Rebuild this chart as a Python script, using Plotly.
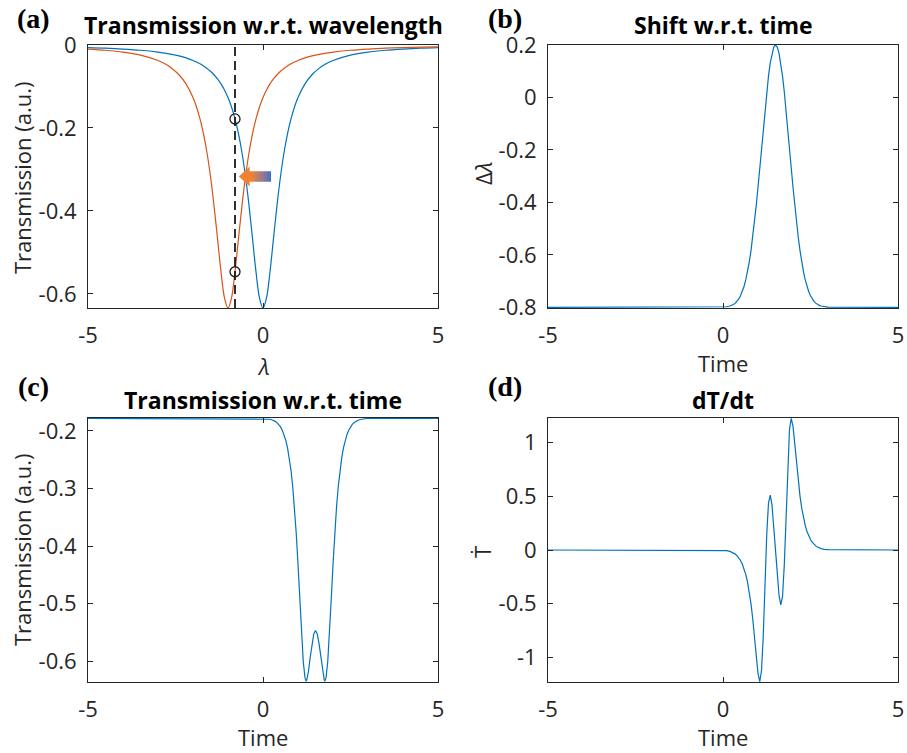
import plotly.graph_objects as go

# ---------------------------------------------------------------- data
# (a) resonance dips versus wavelength
lam = [-5.0, -4.5, -4.0, -3.5, -3.0, -2.8, -2.6, -2.4, -2.2, -2.0, -1.9, -1.8, -1.7,
       -1.6, -1.5, -1.4, -1.3, -1.2, -1.1, -1.0, -0.9, -0.8, -0.7, -0.6, -0.5, -0.4,
       -0.3, -0.2, -0.1, 0.0, 0.1, 0.2, 0.3, 0.4, 0.5, 0.6, 0.7, 0.8, 0.9, 1.0, 1.2,
       1.4, 1.6, 1.8, 2.0, 2.5, 3.0, 3.5, 4.0, 4.5, 5.0]
trans_unshifted = [-0.0063, -0.0077, -0.0098, -0.0127, -0.0171, -0.0196, -0.0226, -0.0264,
                   -0.0311, -0.0373, -0.0411, -0.0454, -0.0505, -0.0564, -0.0634, -0.0717,
                   -0.0817, -0.0938, -0.1086, -0.1268, -0.1495, -0.1781, -0.2142, -0.2598,
                   -0.3170, -0.3866, -0.4662, -0.5466, -0.6096, -0.6340, -0.6096, -0.5466,
                   -0.4662, -0.3866, -0.3170, -0.2598, -0.2142, -0.1781, -0.1495, -0.1268,
                   -0.0938, -0.0717, -0.0564, -0.0454, -0.0373, -0.0244, -0.0171, -0.0127,
                   -0.0098, -0.0077, -0.0063]
trans_shifted = [-0.0098, -0.0127, -0.0171, -0.0244, -0.0373, -0.0454, -0.0564, -0.0717,
                 -0.0938, -0.1268, -0.1495, -0.1781, -0.2142, -0.2598, -0.3170, -0.3866,
                 -0.4662, -0.5466, -0.6096, -0.6340, -0.6096, -0.5466, -0.4662, -0.3866,
                 -0.3170, -0.2598, -0.2142, -0.1781, -0.1495, -0.1268, -0.1086, -0.0938,
                 -0.0817, -0.0717, -0.0634, -0.0564, -0.0505, -0.0454, -0.0411, -0.0373,
                 -0.0311, -0.0264, -0.0226, -0.0196, -0.0171, -0.0127, -0.0098, -0.0077,
                 -0.0063, -0.0052, -0.0044]
probe_lambda = -0.8
probe_trans = [-0.1781, -0.5466]

# (b)-(d) time traces
t = [-5.0, 0.0, 0.1, 0.2, 0.25, 0.3, 0.35, 0.4, 0.45, 0.5, 0.55, 0.6, 0.65, 0.7, 0.75,
     0.8, 0.85, 0.9, 0.95, 1.0, 1.05, 1.1, 1.15, 1.2, 1.2328, 1.25, 1.3, 1.35, 1.4, 1.45,
     1.5, 1.55, 1.6, 1.65, 1.7, 1.75, 1.7672, 1.8, 1.85, 1.9, 1.95, 2.0, 2.05, 2.1, 2.15,
     2.2, 2.25, 2.3, 2.35, 2.4, 2.45, 2.5, 2.55, 2.6, 2.65, 2.7, 2.75, 2.8, 2.9, 3.0, 5.0]
shift = [-0.8, -0.7991, -0.7978, -0.7949, -0.7924, -0.7889, -0.7840, -0.7772, -0.7681,
         -0.7561, -0.7404, -0.7204, -0.6954, -0.6647, -0.6276, -0.5837, -0.5330, -0.4754,
         -0.4114, -0.3422, -0.2689, -0.1935, -0.1181, -0.0452, 0.0, 0.0226, 0.0825, 0.1321,
         0.1692, 0.1922, 0.2000, 0.1922, 0.1692, 0.1321, 0.0825, 0.0226, 0.0, -0.0452,
         -0.1181, -0.1935, -0.2689, -0.3422, -0.4114, -0.4754, -0.5330, -0.5837, -0.6276,
         -0.6647, -0.6954, -0.7204, -0.7404, -0.7561, -0.7681, -0.7772, -0.7840, -0.7889,
         -0.7924, -0.7949, -0.7978, -0.7991, -0.8]
trans_time = [-0.1781, -0.1784, -0.1788, -0.1797, -0.1805, -0.1817, -0.1833, -0.1856,
              -0.1887, -0.1929, -0.1986, -0.2061, -0.2161, -0.2291, -0.2462, -0.2683,
              -0.2968, -0.3330, -0.3780, -0.4318, -0.4918, -0.5514, -0.6005, -0.6289,
              -0.6340, -0.6327, -0.6172, -0.5926, -0.5688, -0.5524, -0.5466, -0.5524,
              -0.5688, -0.5926, -0.6172, -0.6327, -0.6340, -0.6289, -0.6005, -0.5514,
              -0.4918, -0.4318, -0.3780, -0.3330, -0.2968, -0.2683, -0.2462, -0.2291,
              -0.2161, -0.2061, -0.1986, -0.1929, -0.1887, -0.1856, -0.1833, -0.1817,
              -0.1805, -0.1797, -0.1788, -0.1784, -0.1781]
dtrans_dt = [0.0, -0.0027, -0.0062, -0.0134, -0.0193, -0.0274, -0.0383, -0.0529, -0.0722,
             -0.0975, -0.1303, -0.1728, -0.2276, -0.2979, -0.3879, -0.5017, -0.6427,
             -0.8098, -0.9910, -1.1517, -1.2257, -1.1256, -0.8014, -0.3190, 0.0, 0.1466,
             0.4375, 0.5116, 0.4186, 0.2295, 0.0, -0.2295, -0.4186, -0.5116, -0.4375,
             -0.1466, 0.0, 0.3190, 0.8014, 1.1256, 1.2257, 1.1517, 0.9910, 0.8098, 0.6427,
             0.5017, 0.3879, 0.2979, 0.2276, 0.1728, 0.1303, 0.0975, 0.0722, 0.0529,
             0.0383, 0.0274, 0.0193, 0.0134, 0.0062, 0.0027, 0.0]

x_ticks = [-5, 0, 5]
ticks_a = [-0.6, -0.4, -0.2, 0]
ticks_b = [-0.8, -0.6, -0.4, -0.2, 0, 0.2]
ticks_c = [-0.6, -0.5, -0.4, -0.3, -0.2]
ticks_d = [-1, -0.5, 0, 0.5, 1]

# ---------------------------------------------------------------- style
W, H = 907, 753
SANS = "Open Sans"
SERIF = "Liberation Serif"
BLUE = "#0072BD"
ORANGE = "#D95319"
AXIS = "#262626"
TICK_SIZE = 22
LABEL_SIZE = 22
TITLE_SIZE = 23


def px(xp):
    return xp / W


def py(yp):
    return 1 - yp / H


fig = go.Figure()

# (a)
fig.add_trace(go.Scatter(x=lam, y=trans_unshifted, mode="lines", line=dict(color=BLUE, width=1.2, shape="spline"),
                         xaxis="x", yaxis="y"))
fig.add_trace(go.Scatter(x=lam, y=trans_shifted, mode="lines", line=dict(color=ORANGE, width=1.2, shape="spline"),
                         xaxis="x", yaxis="y"))
ya_range = [-0.634, 0.0]
fig.add_trace(go.Scatter(x=[probe_lambda, probe_lambda], y=ya_range, mode="lines",
                         line=dict(color="#1a1a1a", width=1.8, dash="9px,5px"), xaxis="x", yaxis="y"))
fig.add_trace(go.Scatter(x=[probe_lambda] * len(probe_trans), y=probe_trans, mode="markers",
                         marker=dict(symbol="circle-open", size=10, color="#1a1a1a", line=dict(width=1.3)),
                         xaxis="x", yaxis="y"))

# gradient arrow showing the direction of the resonance shift
tip_x, tail_x, neck_x = -0.69, 0.23, -0.38
mid_y = -0.317
shaft_h, head_h = 0.0125, 0.024
arrow_x = [tip_x, neck_x, neck_x, tail_x, tail_x, neck_x, neck_x, tip_x]
arrow_y = [mid_y, mid_y + head_h, mid_y + shaft_h, mid_y + shaft_h,
           mid_y - shaft_h, mid_y - shaft_h, mid_y - head_h, mid_y]
fig.add_trace(go.Scatter(x=arrow_x, y=arrow_y, mode="lines", line=dict(width=0), fill="toself",
                         fillgradient=dict(type="horizontal",
                                           colorscale=[[0, "#EF8432"], [0.4, "#EE8236"], [0.72, "#9C7A8E"], [1, "#4470C2"]]),
                         xaxis="x", yaxis="y"))

# (b)
fig.add_trace(go.Scatter(x=t, y=shift, mode="lines", line=dict(color=BLUE, width=1.2), xaxis="x2", yaxis="y2"))
# (c)
fig.add_trace(go.Scatter(x=t, y=trans_time, mode="lines", line=dict(color=BLUE, width=1.2), xaxis="x3", yaxis="y3"))
# (d)
fig.add_trace(go.Scatter(x=t, y=dtrans_dt, mode="lines", line=dict(color=BLUE, width=1.2), xaxis="x4", yaxis="y4"))

axis_common = dict(showline=True, linecolor=AXIS, linewidth=1, mirror="ticks", ticks="inside", ticklen=5,
                   tickcolor=AXIS, tickwidth=1, showgrid=False, zeroline=False, automargin=False,
                   tickfont=dict(family=SANS, size=TICK_SIZE, color=AXIS))

left_dom = [px(88), px(438)]
right_dom = [px(548), px(898)]
top_dom = [py(308), py(45)]
bot_dom = [py(682), py(418)]

x_common = dict(axis_common, range=[-5, 5], tickvals=x_ticks, ticktext=["-5", "0", "5"], ticklabelstandoff=8)
fig.update_layout(
    xaxis=dict(x_common, domain=left_dom, anchor="y"),
    yaxis=dict(axis_common, domain=top_dom, anchor="x", range=ya_range, tickvals=ticks_a,
               ticktext=["-0.6", "-0.4", "-0.2", "0"], ticklabelstandoff=6),
    xaxis2=dict(x_common, domain=right_dom, anchor="y2"),
    yaxis2=dict(axis_common, domain=top_dom, anchor="x2", range=[-0.8025, 0.2], tickvals=ticks_b,
                ticktext=["-0.8", "-0.6", "-0.4", "-0.2", "0", "0.2"], ticklabelstandoff=6),
    xaxis3=dict(x_common, domain=left_dom, anchor="y3"),
    yaxis3=dict(axis_common, domain=bot_dom, anchor="x3", range=[-0.636, -0.1775], tickvals=ticks_c,
                ticktext=["-0.6", "-0.5", "-0.4", "-0.3", "-0.2"], ticklabelstandoff=6),
    xaxis4=dict(x_common, domain=right_dom, anchor="y4"),
    yaxis4=dict(axis_common, domain=bot_dom, anchor="x4", range=[-1.23, 1.23], tickvals=ticks_d,
                ticktext=["-1", "-0.5", "0", "0.5", "1"], ticklabelstandoff=6),
)


def note(text, xp, yp, size, family=SANS, color="#000000", angle=0):
    fig.add_annotation(text=text, x=px(xp), y=py(yp), xref="paper", yref="paper", showarrow=False,
                       xanchor="center", yanchor="middle", textangle=angle,
                       font=dict(family=family, size=size, color=color))


# panel letters
for label, xp, yp in (("(a)", 33, 19), ("(b)", 505, 19), ("(c)", 33, 386), ("(d)", 505, 386)):
    note(f"<b>{label}</b>", xp, yp, 28, family=SERIF)

# titles
note("<b>Transmission w.r.t. wavelength</b>", 263, 25, TITLE_SIZE)
note("<b>Shift w.r.t. time</b>", 723, 25, TITLE_SIZE)
note("<b>Transmission w.r.t. time</b>", 263, 400, TITLE_SIZE)
note("<b>dT/dt</b>", 723, 400, TITLE_SIZE)

# axis labels
note("<i>λ</i>", 263, 366, LABEL_SIZE, color=AXIS)
note("Time", 723, 363, LABEL_SIZE, color=AXIS)
note("Time", 263, 737, LABEL_SIZE, color=AXIS)
note("Time", 723, 737, LABEL_SIZE, color=AXIS)
note("Transmission (a.u.)", 22, 178, LABEL_SIZE, color=AXIS, angle=-90)
note("Transmission (a.u.)", 22, 550, LABEL_SIZE, color=AXIS, angle=-90)
note("Δ<i>λ</i>", 483, 173, LABEL_SIZE, color=AXIS, angle=-90)
note("Ṫ", 482, 552, LABEL_SIZE, color=AXIS, angle=-90)

fig.update_layout(width=W, height=H, autosize=False, margin=dict(l=0, r=0, t=0, b=0),
                  paper_bgcolor="white", plot_bgcolor="white", showlegend=False)

fig.write_html("out.html")
